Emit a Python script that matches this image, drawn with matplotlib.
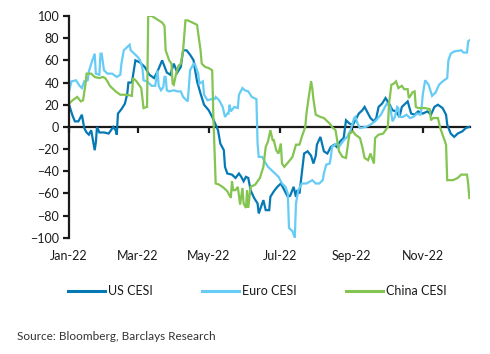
import matplotlib
matplotlib.use("Agg")
import matplotlib.pyplot as plt
import matplotlib.dates as mdates
import pandas as pd

plt.rcParams['font.family'] = ['Lato', 'DejaVu Sans']

start_date = "2022-01-01"

# Days since 1 Jan 2022 and index values
us_days = [0, 3, 5, 8, 11, 13, 15, 17, 19, 21, 22, 23, 24, 26, 30, 34, 38, 40, 41, 42, 45, 48, 50, 51, 54, 57,
           61, 65, 69, 73, 76, 80, 84, 87, 90, 93, 96, 98, 101, 104, 107, 108, 110, 113, 116, 120, 123, 126,
           128, 130, 133, 134, 136, 140, 143, 146, 148, 150, 152, 154, 156, 159, 162, 163, 166, 167, 169, 172,
           173, 176, 179, 182, 185, 188, 190, 193, 195, 196, 198, 200, 202, 205, 208, 210, 212, 213, 216, 219,
           222, 225, 228, 230, 233, 236, 238, 241, 244, 246, 249, 252, 254, 256, 259, 262, 264, 266, 269, 272,
           275, 278, 281, 284, 286, 291, 294, 297, 300, 304, 308, 311, 314, 317, 321, 324, 325, 328, 331, 334,
           338, 341, 344]
us_vals = [20, 10, 5, 5, 11, -1, -5, -7, -3, -15, -21, -14, 0, -5, -5, -6, 0, -3, -7, 12, 16, 21, 30, 40, 40, 60,
           58, 54, 47, 44, 50, 60, 49, 47, 57, 49, 54, 69, 69, 65, 60, 53, 41, 30, 20, 15, 9, 2,
           -3, -15, -21, -36, -42, -43, -46, -42, -45, -49, -45, -46, -57, -64, -69, -78, -69, -66, -75, -75,
           -63, -58, -54, -51, -57, -63, -62, -54, -63, -57, -60, -42, -24, -22, -26, -33, -26, -16, -9, -22,
           -24, -18, -16, -18, -13, -10, 6, 3, 2, 6, 12, 15, 18, 14, 8, 5, 8, 18, 21, 26,
           21, 15, 14, 9, 18, 23, 12, 11, 14, 12, 14, 11, 18, 20, 17, 11, 2, -6, -9, -6,
           -4, -1, 0]

euro_days = [0, 2, 6, 9, 11, 13, 16, 17, 20, 22, 23, 26, 27, 28, 30, 33, 37, 41, 44, 45, 47, 49, 52, 53, 56, 59,
             61, 63, 64, 67, 71, 74, 76, 77, 79, 81, 82, 83, 84, 86, 90, 93, 96, 98, 102, 104, 107, 108, 111,
             112, 115, 116, 119, 122, 125, 126, 129, 132, 134, 136, 137, 138, 139, 142, 145, 146, 149, 151, 154,
             157, 161, 162, 163, 166, 168, 171, 174, 177, 180, 183, 186, 188, 189, 192, 194, 195, 196, 197, 200,
             204, 209, 212, 215, 218, 219, 221, 224, 225, 226, 230, 232, 234, 236, 239, 242, 245, 246, 248, 250,
             255, 259, 263, 268, 270, 273, 276, 278, 280, 282, 283, 284, 287, 290, 293, 296, 299, 302, 303, 304,
             306, 309, 312, 315, 318, 321, 325, 326, 328, 331, 337, 339, 342, 343, 344]
euro_vals = [32, 41, 42, 37, 35, 41, 42, 50, 60, 66, 48, 47, 66, 66, 51, 48, 48, 45, 47, 57, 69, 71, 74, 69, 66, 63,
             60, 53, 42, 41, 37, 37, 51, 37, 33, 36, 45, 45, 33, 32, 33, 32, 32, 27, 23, 51, 57, 57, 48,
             39, 41, 29, 24, 25, 25, 27, 24, 18, 9, 12, 12, 20, 14, 18, 17, 29, 35, 33, 32,
             27, 25, -15, -27, -27, -31, -36, -39, -42, -45, -51, -54, -60, -91, -94, -100, -69, -63, -57, -51,
             -51, -48, -51, -51, -48, -42, -34, -33, -27, -18, -15, -18, -15, -12, -9, -3, 8, 9, 3, -1,
             0, 2, 5, 11, 15, 21, 18, 5, 9, 18, 17, 9, 9, 11, 8, 9, 12, 11, 18, 29,
             42, 38, 28, 31, 38, 41, 44, 60, 66, 68, 69, 67, 67, 77, 78]

china_days = [0, 3, 7, 10, 12, 14, 15, 19, 22, 26, 29, 31, 33, 35, 40, 44, 49, 54, 55, 58, 62, 64, 67, 68, 71, 77,
              80, 82, 83, 86, 88, 89, 90, 92, 94, 96, 98, 100, 102, 106, 110, 111, 113, 114, 117, 120, 123, 124,
              125, 126, 129, 133, 136, 139, 140, 141, 143, 145, 147, 149, 150, 152, 153, 154, 156, 160, 164, 167,
              169, 171, 173, 175, 176, 178, 180, 182, 183, 185, 189, 192, 195, 198, 200, 203, 204, 206, 208, 209,
              210, 212, 216, 219, 221, 224, 226, 229, 232, 235, 238, 241, 244, 246, 250, 252, 254, 257, 259, 261,
              262, 263, 266, 270, 272, 274, 275, 277, 279, 281, 283, 286, 288, 291, 292, 294, 295, 297, 298, 300,
              306, 310, 311, 313, 317, 319, 321, 324, 325, 330, 334, 337, 342, 343, 344]
china_vals = [21, 24, 27, 23, 24, 38, 48, 48, 45, 44, 45, 44, 41, 37, 32, 29, 29, 28, 44, 41, 35, 17, 18, 100, 100, 96,
              94, 91, 69, 60, 57, 39, 38, 48, 55, 57, 69, 96, 96, 94, 92, 84, 69, 57, 54, 53, 51, 9,
              -21, -51, -52, -55, -58, -64, -49, -57, -57, -54, -70, -55, -69, -73, -57, -73, -54, -52, -46, -36,
              -18, -13, -3, -12, -12, -21, -24, -15, -33, -36, -31, -27, -16, -16, -9, 0, 12, 27, 41, 35,
              25, 11, 9, 8, 6, 3, 0, -3, -22, -27, -28, -6, -4, -7, -10, -18, -28, -30, -24, -30,
              -33, -10, -7, -6, -3, 0, 21, 38, 39, 41, 35, 37, 34, 34, 26, 29, 31, 32, 18, 17,
              17, 16, 6, 8, 8, -1, -7, -16, -48, -48, -46, -43, -43, -51, -64]

series_names = ["US CESI", "Euro CESI", "China CESI"]
series_colors = ["#0679B5", "#66CCF5", "#84C451"]

t0 = pd.Timestamp(start_date)
def to_dates(days):
    return t0 + pd.to_timedelta(days, unit="D")

fig = plt.figure(figsize=(4.9, 3.54), dpi=100)
ax = fig.add_axes([0.141, 0.328, 0.818, 0.627])

for d, v, name, c in zip([us_days, euro_days, china_days], [us_vals, euro_vals, china_vals],
                         series_names, series_colors):
    ax.plot(to_dates(d), v, color=c, lw=1.6, label=name, solid_joinstyle='miter')

ax.set_ylim(-100, 100)
ax.set_yticks(range(-100, 101, 20))
ax.set_xlim(t0, t0 + pd.Timedelta(days=344.5))

for s in ['top', 'right', 'bottom']:
    ax.spines[s].set_visible(False)
ax.spines['left'].set_linewidth(1.6)
ax.spines['left'].set_color('#1a1a1a')
ax.tick_params(axis='y', direction='out', length=4, width=1.6, color='#1a1a1a',
               labelsize=9, pad=3, labelcolor='#1a1a1a')

loc = mdates.MonthLocator(bymonth=[1, 3, 5, 7, 9, 11])
ax.xaxis.set_major_locator(loc)
ax.xaxis.set_major_formatter(mdates.DateFormatter('%b-%y'))
ax.tick_params(axis='x', length=0, labelsize=9, pad=9, labelcolor='#1a1a1a')

sec = ax.secondary_xaxis(0.5)
sec.xaxis.set_major_locator(mdates.MonthLocator(bymonth=[1, 3, 5, 7, 9, 11]))
sec.xaxis.set_major_formatter(mdates.DateFormatter(''))
sec.tick_params(axis='x', which='both', direction='in', length=4, width=1.6, color='#1a1a1a',
                labeltop=False, labelbottom=False)
for s in sec.spines.values():
    s.set_linewidth(1.6)
    s.set_color('#1a1a1a')

handles, labels = ax.get_legend_handles_labels()
leg = fig.legend(handles, labels, loc='center', bbox_to_anchor=(0.525, 1 - 291 / 354), ncol=3,
                 frameon=False, fontsize=9, handlelength=3.0, handletextpad=0.25, columnspacing=3.9,
                 bbox_transform=fig.transFigure, labelcolor='#1a1a1a')
for line in leg.get_lines():
    line.set_linewidth(2.2)

fig.text(17 / 490, 1 - 336 / 354, "Source: Bloomberg, Barclays Research", fontsize=8.5,
         color='#333333', va='center', ha='left')

fig.savefig("out.png", dpi=100)
